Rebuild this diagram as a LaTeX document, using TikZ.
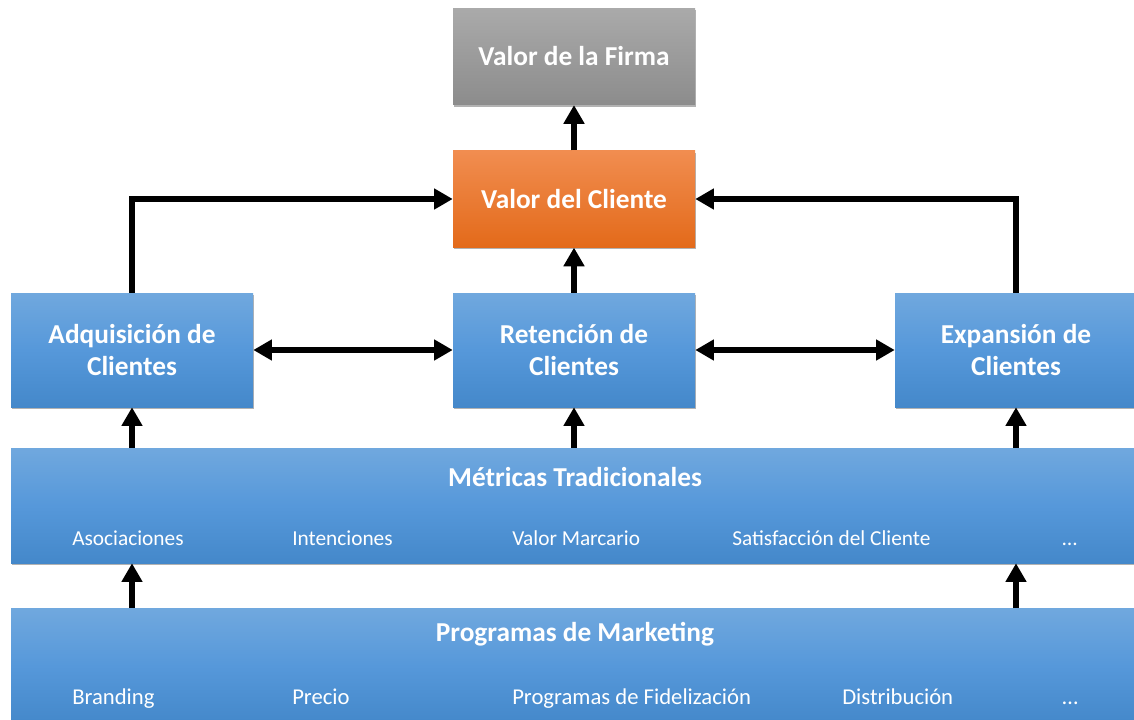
\documentclass[tikz,border=0pt]{standalone}
\usepackage{fontspec}
\setmainfont{Carlito}
\usetikzlibrary{arrows.meta,shadows}
\definecolor{bluetop}{RGB}{112,168,222}
\definecolor{bluemid}{RGB}{86,152,218}
\definecolor{bluebot}{RGB}{68,136,202}
\definecolor{graytop}{RGB}{170,170,170}
\definecolor{graybot}{RGB}{140,140,140}
\definecolor{orangetop}{RGB}{241,141,80}
\definecolor{orangebot}{RGB}{227,106,26}
\tikzset{
  boxbase/.style={rectangle, inner sep=0pt, text=white, align=center,
    font=\bfseries\fontsize{20.5}{24}\selectfont,
    drop shadow={shadow xshift=1pt, shadow yshift=-1.5pt, fill=black, opacity=0.3}},
  bluebox/.style={boxbase, top color=bluetop, bottom color=bluebot, middle color=bluemid},
  graybox/.style={boxbase, top color=graytop, bottom color=graybot},
  orangebox/.style={boxbase, top color=orangetop, bottom color=orangebot},
  smallbox/.style={minimum width=181.5pt, minimum height=72.5pt},
  midbox/.style={minimum width=181.5pt, minimum height=85.5pt},
  widebox/.style={minimum width=846pt, minimum height=86.25pt},
  titletext/.style={text=white, font=\bfseries\fontsize{20.5}{24}\selectfont, inner sep=0pt},
  itemtext/.style={text=white, font=\fontsize{16}{19}\selectfont, inner sep=0pt, anchor=base west},
  itemtextb/.style={itemtext, font=\fontsize{17}{20}\selectfont},
  arr/.style={line width=4.2pt, -{Triangle[length=14pt,width=15pt]}},
  arrtwo/.style={line width=4.2pt, {Triangle[length=14pt,width=15pt]}-{Triangle[length=14pt,width=15pt]}}
}
\begin{document}
\begin{tikzpicture}[x=0.75pt,y=-0.75pt]
\useasboundingbox (0,0) rectangle (1134,720);
\clip (0,0) rectangle (1134,720);

\node[graybox, smallbox] (firma) at (574,56.5) {Valor de la Firma};
\node[orangebox, smallbox] (cliente) at (574,199) {Valor del Cliente};
\node[bluebox, midbox] (adq) at (132,350) {Adquisición de\\Clientes};
\node[bluebox, midbox] (ret) at (574,350) {Retención de\\Clientes};
\node[bluebox, midbox] (exp) at (1016,350) {Expansión de\\Clientes};
\node[bluebox, widebox] (met) at (575,505.5) {};
\node[bluebox, widebox] (prog) at (575,666) {};

\node[titletext] (mett) at (575,477) {Métricas Tradicionales};
\node[itemtext] (m1) at (72,545) {Asociaciones};
\node[itemtext] (m2) at (292,545) {Intenciones};
\node[itemtext] (m3) at (512,545) {Valor Marcario};
\node[itemtext] (m4) at (732,545) {Satisfacción del Cliente};
\node[itemtext] (m5) at (1062,545) {…};

\node[titletext] (progt) at (575,634) {Programas de Marketing};
\node[itemtextb] (p1) at (72,704) {Branding};
\node[itemtextb] (p2) at (292,704) {Precio};
\node[itemtextb] (p3) at (512,704) {Programas de Fidelización};
\node[itemtextb] (p4) at (842,704) {Distribución};
\node[itemtextb] (p5) at (1062,704) {…};

\draw[arr] (cliente.north) -- (firma.south);
\draw[arr] (ret.north) -- (cliente.south);
\draw[arr] (adq.north) |- (cliente.west);
\draw[arr] (exp.north) |- (cliente.east);
\draw[arrtwo] (adq.east) -- (ret.west);
\draw[arrtwo] (ret.east) -- (exp.west);
\draw[arr] (met.north -| adq.south) -- (adq.south);
\draw[arr] (met.north -| ret.south) -- (ret.south);
\draw[arr] (met.north -| exp.south) -- (exp.south);
\draw[arr] (prog.north -| adq.south) -- (met.south -| adq.south);
\draw[arr] (prog.north -| exp.south) -- (met.south -| exp.south);
\end{tikzpicture}
\end{document}
